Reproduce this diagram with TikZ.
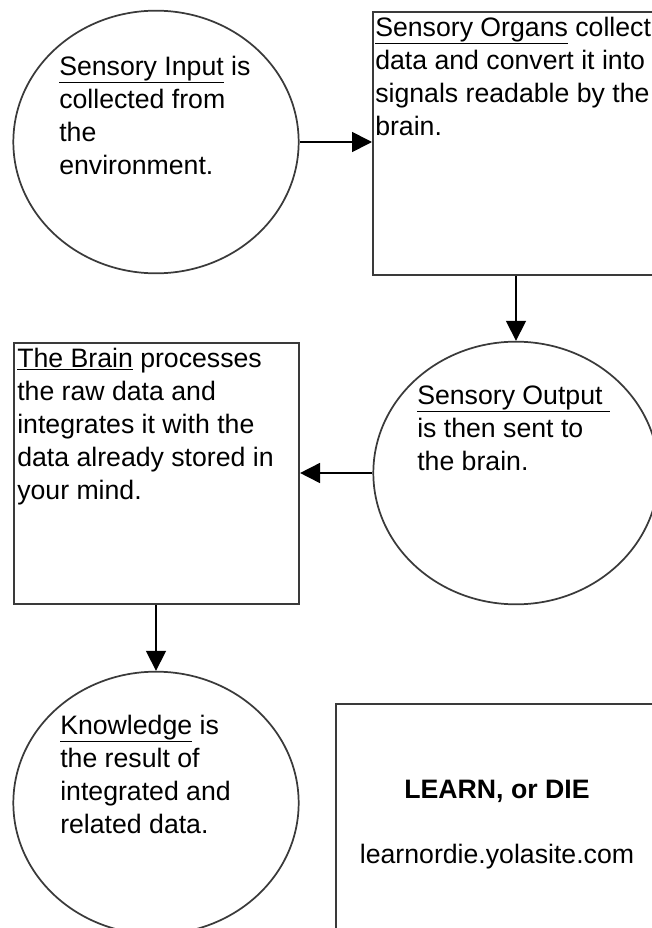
\documentclass[tikz,border=0pt]{standalone}
\usepackage{fontspec}
\setmainfont{Liberation Sans}
\usetikzlibrary{arrows.meta, positioning, shapes.geometric}
\definecolor{edgegray}{HTML}{3A3A3A}

\begin{document}
\begin{tikzpicture}[x=0.75pt, y=-0.75pt,
  roundbox/.style={draw=edgegray, line width=1.3pt, ellipse, minimum width=214pt, minimum height=197pt, inner sep=0pt},
  squarebox/.style={draw=edgegray, line width=1.3pt, rectangle, inner sep=0pt, anchor=north west},
  txt/.style={font=\fontsize{20}{24.75}\selectfont, align=left, inner sep=0pt, anchor=base west},
  flow/.style={-{Triangle[length=15pt, width=15pt]}, line width=1.3pt, black}]
  \useasboundingbox (0,0) rectangle (652,928);

  % shapes
  \node[roundbox] (input) at (156,142) {};
  \node[squarebox, minimum width=225pt, minimum height=197.25pt] (organs) at (372,11) {};
  \node[roundbox] (output) at (516,473) {};
  \node[squarebox, minimum width=214pt, minimum height=196pt] (brain) at (13,342) {};
  \node[roundbox] (knowledge) at (156,803) {};
  \node[squarebox, minimum width=250pt, minimum height=200pt] (site) at (335,703) {};

  % texts (base = last line)
  \node[txt] (inputtxt) at (59,174) {\underline{Sensory Input} is\\collected from\\the\\environment.};
  \node[txt] (organstxt) at (375,135) {\underline{Sensory Organs} collect\\data and convert it into\\signals readable by the\\brain.};
  \node[txt] (outputtxt) at (417,470) {\underline{Sensory Output\ }\\is then sent to\\the brain.};
  \node[txt] (braintxt) at (17,499) {\underline{The Brain} processes\\the raw data and\\integrates it with the\\data already stored in\\your mind.};
  \node[txt] (knowtxt) at (60,833) {\underline{Knowledge} is\\the result of\\integrated and\\related data.};
  \node[font=\fontsize{20}{24.75}\selectfont\bfseries, anchor=base, inner sep=0pt] (title) at (497,798) {LEARN, or DIE};
  \node[font=\fontsize{20}{24.75}\selectfont, anchor=base, inner sep=0pt] (url) at (497,863) {learnordie.yolasite.com};

  % arrows
  \draw[flow] (input.east) -- (input.east -| organs.west);
  \draw[flow] (output.north |- organs.south) -- (output.north);
  \draw[flow] (output.west) -- (output.west -| brain.east);
  \draw[flow] (knowledge.north |- brain.south) -- (knowledge.north);
\end{tikzpicture}
\end{document}
